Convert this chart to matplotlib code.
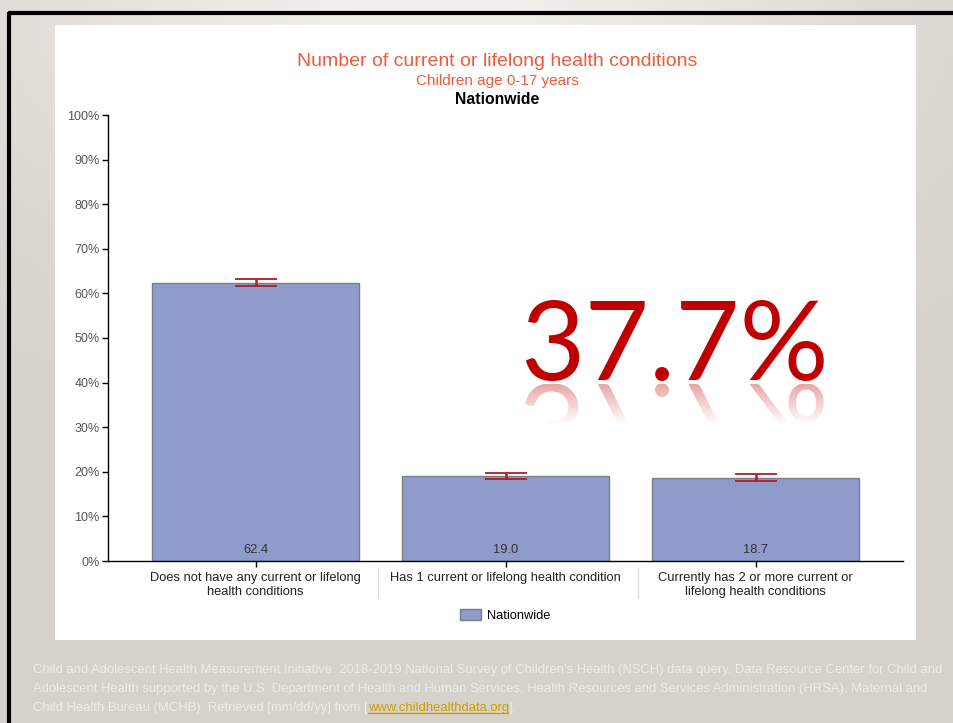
import numpy as np
import matplotlib
matplotlib.use("Agg")
import matplotlib.pyplot as plt
from matplotlib.patches import Rectangle, PathPatch
from matplotlib.textpath import TextPath
from matplotlib.font_manager import FontProperties
from matplotlib.transforms import Affine2D
from matplotlib.ticker import FuncFormatter

# -----------------------------
# DATA
# -----------------------------
categories = ["Does not have any current or lifelong\nhealth conditions",
              "Has 1 current or lifelong health condition",
              "Currently has 2 or more current or\nlifelong health conditions"]
values = [62.4, 19.0, 18.7]
ci_low = [61.6, 18.3, 17.9]
ci_high = [63.2, 19.7, 19.4]
series_name = "Nationwide"
big_number = "37.7%"

title = "Number of current or lifelong health conditions"
subtitle = "Children age 0-17 years"
region = "Nationwide"

footer_1 = ("Child and Adolescent Health Measurement Initiative. 2018-2019 National Survey of Children's "
            "Health (NSCH) data query. Data Resource Center for Child and")
footer_2 = ("Adolescent Health supported by the U.S. Department of Health and Human Services, "
            "Health Resources and Services Administration (HRSA), Maternal and")
footer_3 = "Child Health Bureau (MCHB). Retrieved [mm/dd/yy] from ["
footer_link = "www.childhealthdata.org"
footer_end = "]."

W, H = 954, 723
fig = plt.figure(figsize=(W / 100, H / 100), dpi=100)

# -----------------------------
# SLIDE BACKGROUND
# -----------------------------
bg = fig.add_axes([0, 0, 1, 1], zorder=0)
bg.axis("off")
xx, yy = np.meshgrid(np.linspace(0, 1, 200), np.linspace(0, 1, 150))
glow = np.exp(-((xx - 0.45) / 0.45) ** 2 - (yy / 0.35) ** 2)
dark = np.array([214, 210, 203]) / 255
light = np.array([242, 240, 236]) / 255
img = dark + (light - dark) * glow[..., None]
bg.imshow(img, extent=[0, W, H, 0], origin="upper", aspect="auto")
bg.set_xlim(0, W)
bg.set_ylim(H, 0)
bg.plot([8, W], [13, 13], color="black", lw=3, solid_capstyle="butt")
bg.plot([9, 9], [12, H], color="black", lw=3, solid_capstyle="butt")
bg.add_patch(Rectangle((55, 25), 861, 615, facecolor="white", edgecolor="none"))

# footer
foot_family = ["Liberation Sans Narrow", "Liberation Sans"]
fkw = dict(fontsize=9.4, color="#efece7", family=foot_family, va="baseline")
bg.text(33, 673, footer_1, **fkw)
bg.text(33, 692, footer_2, **fkw)
t3 = bg.text(33, 711, footer_3, **fkw)

# -----------------------------
# CHART
# -----------------------------
ax = fig.add_axes([108 / W, 1 - 561 / H, 795 / W, 446 / H], zorder=2)
ax.patch.set_alpha(0)
x = np.arange(len(values))
ax.bar(x, values, width=0.83, color="#8f9bcb", edgecolor="#7c7c88", linewidth=1,
       label=series_name, zorder=2)
err = [np.array(values) - np.array(ci_low), np.array(ci_high) - np.array(values)]
ax.errorbar(x, values, yerr=err, fmt="none", ecolor="#b01c26", elinewidth=1.8,
            capsize=15, capthick=1.3, zorder=3)
for xi, v in zip(x, values):
    ax.text(xi, 1.2, f"{v:.1f}", ha="center", va="bottom", fontsize=9.3,
            color="#333333", family="Liberation Sans", zorder=4)

ax.set_xlim(-0.59, 2.59)
ax.set_ylim(0, 100)
ax.set_yticks(np.arange(0, 101, 10))
ax.yaxis.set_major_formatter(FuncFormatter(lambda v, p: f"{int(v)}%"))
ax.set_xticks(x)
ax.set_xticklabels(categories, fontsize=9.3, color="#222222", family="Liberation Sans",
                   linespacing=1.25)
ax.tick_params(axis="y", labelsize=9, labelcolor="#555555", length=4, width=1, pad=2)
ax.tick_params(axis="x", length=4, width=1, pad=4)
for lab in ax.get_yticklabels():
    lab.set_family("Liberation Sans")
for s in ["top", "right"]:
    ax.spines[s].set_visible(False)
for s in ["left", "bottom"]:
    ax.spines[s].set_linewidth(1)
    ax.spines[s].set_color("black")

# separators between categories
for sx in [0.49, 1.53]:
    ax.plot([sx, sx], [-0.016, -0.083], transform=ax.get_xaxis_transform(),
            color="#dddddd", lw=1, clip_on=False)

leg = ax.legend(loc="center", bbox_to_anchor=(0.5, -0.123), frameon=False,
                prop={"family": "Liberation Sans", "size": 9.3},
                handlelength=1.6, handleheight=0.9, handletextpad=0.5)

# titles
fig.text(497 / W, 1 - 61 / H, title, ha="center", va="center", fontsize=14,
         color="#f05a3c", family="Liberation Sans")
fig.text(497 / W, 1 - 81 / H, subtitle, ha="center", va="center", fontsize=11,
         color="#f05a3c", family="Liberation Sans")
fig.text(497 / W, 1 - 100 / H, region, ha="center", va="center", fontsize=11.3,
         color="black", family="Liberation Sans", weight="bold")

# -----------------------------
# BIG NUMBER + REFLECTION
# -----------------------------
ov = fig.add_axes([0, 0, 1, 1], zorder=5)
ov.axis("off")
big_size = 80
big_font = FontProperties(family=["Lato", "Open Sans", "DejaVu Sans"], size=big_size)
ov.text(520, 380, big_number, fontproperties=big_font, color="#c00000",
        ha="left", va="baseline")
tp = TextPath((0, 0), big_number, size=big_size * 100 / 72, prop=big_font)
refl = PathPatch(tp, transform=Affine2D().translate(520, 384) + ov.transData,
                 facecolor="none", edgecolor="none")
ov.add_patch(refl)
fade = np.zeros((60, 2, 4))
fade[..., 0] = 0.75
fade[..., 3] = np.linspace(0.35, 0.0, 60)[:, None]
im = ov.imshow(fade, extent=[500, 840, 425, 384], origin="upper", aspect="auto")
im.set_clip_path(refl)
ov.set_xlim(0, W)
ov.set_ylim(H, 0)

# footer link chained after line 3
fig.canvas.draw()
r = fig.canvas.get_renderer()
inv = bg.transData.inverted()
bb = t3.get_window_extent(r)
x_link = inv.transform((bb.x1, bb.y0))[0]
tl = bg.text(x_link, 711, footer_link, fontsize=9.4, color="#c9a100",
             family=foot_family, va="baseline")
fig.canvas.draw()
bl = tl.get_window_extent(r)
x0l, x1l = inv.transform((bl.x0, bl.y0))[0], inv.transform((bl.x1, bl.y0))[0]
bg.plot([x0l, x1l], [713, 713], color="#c9a100", lw=1)
bg.text(x1l, 711, footer_end, **fkw)

fig.savefig("out.png", dpi=100)
